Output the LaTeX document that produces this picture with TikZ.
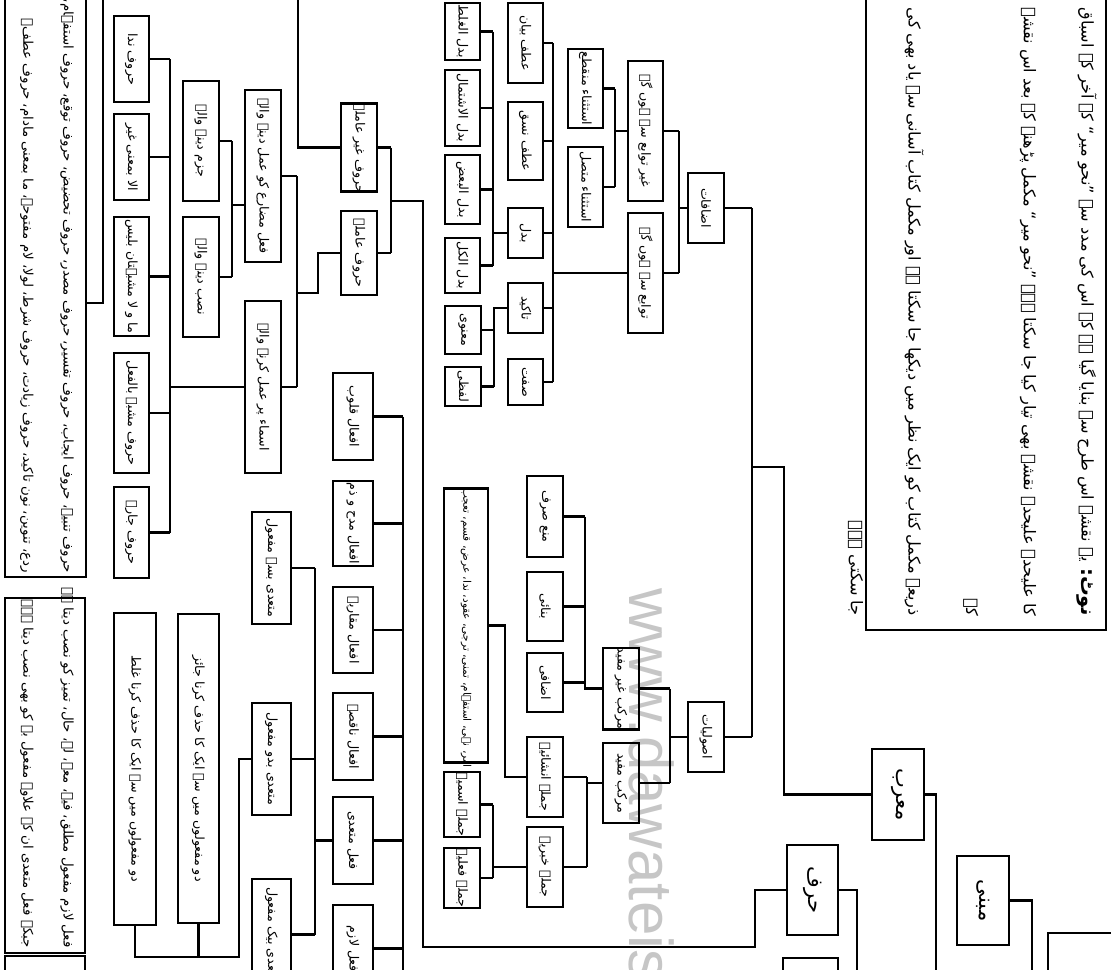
\documentclass[tikz,border=0pt]{standalone}
\usepackage{fontspec}
\usetikzlibrary{fit,positioning}
\setmainfont{DejaVu Sans}
\newfontfamily\urdu[Script=Arabic]{DejaVu Sans}
\newfontfamily\wmfont{Liberation Sans}
\TeXXeTstate=1
\newcommand{\lb}[1]{\rotatebox{-90}{\urdu\fontsize{9}{11}\selectfont\beginR #1\endR}}
\newcommand{\lbs}[1]{\rotatebox{-90}{\urdu\fontsize{7.5}{9}\selectfont\beginR #1\endR}}
\newcommand{\lbig}[1]{\rotatebox{-90}{\urdu\fontsize{15}{18}\selectfont\beginR #1\endR}}
\tikzset{
  box/.style={draw,line width=2pt,inner sep=0pt,fit={#1}},
  link/.style={line width=2pt},
  note/.style={inner sep=0pt,anchor=south east},
}

\begin{document}
\begin{tikzpicture}[x=0.025cm,y=-0.025cm]
  \useasboundingbox (0,0) rectangle (1111,969);
  \clip (0,0) rectangle (1111,969);
  \fill[white] (0,0) rectangle (1111,969);

  % watermark
  \node[anchor=north,inner sep=0pt,text=gray!45] (wm) at (652,588)
    {\rotatebox{-90}{\wmfont\fontsize{44}{44}\selectfont www.dawateislami.net}};

  % notes
  \node[box={(5,-40)(86,577)}] (notea) {};
  \node[note] (noteatext) at (74,573) {\rotatebox{-90}{\parbox{16cm}{\raggedleft\urdu\fontsize{9.5}{28.5}\selectfont
    \beginR حروف تنبیہ، حروف ایجاب، حروف تفسیر، حروف مصدر، حروف تحضیض، حروف توقع، حروف استفہام، حروف\endR\\
    \beginR ردع، تنوین، نون تاکید، حروف زیادت، حروف شرط، لولا، لام مفتوحہ، ما بمعنی مادام، حروف عطف۔\endR}}};
  \node[box={(5,598)(85,953)}] (noteb) {};
  \node[note] (notebtext) at (74,948) {\rotatebox{-90}{\parbox{9cm}{\raggedleft\urdu\fontsize{9.5}{28.5}\selectfont
    \beginR فعل لازم مفعول مطلق، فیہ، معہ، لہ، حال، تمیز کو نصب دیتا ہے\endR\\
    \beginR جبکہ فعل متعدی ان کے علاوہ مفعول بہ کو بھی نصب دیتا ہے۔\endR}}};
  \node[box={(5,956)(85,1010)}] (notec) {};
  \node[box={(866,-40)(1106,630)}] (notem) {};
  \node[note] (notemtext) at (1097,616) {\rotatebox{-90}{\parbox{15.2cm}{\raggedleft\urdu\fontsize{11.5}{41}\selectfont
    \beginR{\bfseries\fontsize{14}{41}\selectfont نوٹ:} یہ نقشہ اس طرح سے بنایا گیا ہے کہ اس کی مدد سے ”نحو میر“ کے آخر کے اسباق\endR\\
    \beginR کا علیحدہ علیحدہ نقشہ بھی تیار کیا جا سکتا ہے۔ ”نحو میر“ مکمل پڑھنے کے بعد اس نقشے کے\endR\\
    \beginR ذریعے مکمل کتاب کو ایک نظر میں دیکھا جا سکتا ہے اور مکمل کتاب آسانی سے یاد بھی کی\endR\\
    \beginR جا سکتی ہے۔\endR}}};

  % harf side
  \foreach \n/\xa/\ya/\xb/\yb/\t in {
      nida/114/16/149/102/{حروف ندا},
      illa/114/114/149/200/{الا بمعنی غیر},
      mawala/114/217/149/336/{ما و لا مشبہتان بلیس},
      mushabbaha/114/353/149/473/{حروف مشبہ بالفعل},
      jarra/114/487/149/578/{حروف جارہ},
      jazm/183/81/219/201/{جزم دینے والے},
      nasb/183/217/219/337/{نصب دینے والے},
      mudari/245/90/281/262/{فعل مضارع کو عمل دینے والے},
      asma/245/301/281/473/{اسماء پر عمل کرنے والے},
      ghaira/341/105/377/190/{حروف غیر عاملہ},
      amila/341/211/377/295/{حروف عاملہ}}
    \node[box={(\xa,\ya)(\xb,\yb)}] (\n) {\lb{\t}};

  % izafat side
  \foreach \n/\xa/\ya/\xb/\yb/\t in {
      izafat/688/173/724/243/{اضافات},
      ghtawabi/628/61/663/201/{غیر توابع سے ہوں گے},
      tawabi/628/213/663/333/{توابع سے ہوں گے},
      munqati/568/49/603/128/{استثناء منقطع},
      muttasil/568/147/603/227/{استثناء متصل},
      atfbayan/508/3/543/83/{عطف بیان},
      atfnasq/508/102/543/180/{عطف نسق},
      badal/508/208/543/258/{بدل},
      takid/508/283/543/333/{تاکید},
      sifat/508/359/543/405/{صفت},
      ghalat/445/3/480/60/{بدل الغلط},
      ishtimal/445/70/480/146/{بدل الاشتمال},
      baaz/445/155/480/224/{بدل البعض},
      kul/445/238/480/293/{بدل الکل},
      manawi/445/306/481/354/{معنوی},
      lafzi/445/367/481/406/{لفظی}}
    \node[box={(\xa,\ya)(\xb,\yb)}] (\n) {\lb{\t}};

  % usool side
  \foreach \n/\xa/\ya/\xb/\yb/\t in {
      usool/688/702/724/772/{اصولیات},
      ghmufid/603/648/639/729/{مرکب غیر مفید},
      mufid/603/743/639/823/{مرکب مفید},
      mana/527/476/563/557/{منع صرف},
      binai/527/572/563/641/{بنائی},
      izafi/527/653/563/712/{اضافی},
      inshaia/527/737/563/817/{جملہ انشائیہ},
      khabria/527/827/563/907/{جملہ خبریہ},
      ismia/444/772/480/837/{جملہ اسمیہ},
      filia/444/848/480/908/{جملہ فعلیہ}}
    \node[box={(\xa,\ya)(\xb,\yb)}] (\n) {\lb{\t}};
  \node[box={(444,491)(488,760)}] (insha)
    {\lbs{امر، نہی، استفہام، تمنی، ترجی، عقود، ندا، عرض، قسم، تعجب}};

  % fel side
  \foreach \n/\xa/\ya/\xb/\yb/\t in {
      qulub/333/373/373/460/{افعال قلوب},
      madh/333/481/373/566/{افعال مدح و ذم},
      muqaraba/333/587/373/673/{افعال مقاربہ},
      naqisa/333/693/373/780/{افعال ناقصہ},
      mutaddi/333/797/373/884/{فعل متعدی},
      lazim/333/905/373/992/{فعل لازم},
      bisa/252/512/291/624/{متعدی بسہ مفعول},
      bido/252/703/291/815/{متعدی بدو مفعول},
      bayak/252/879/291/990/{متعدی بیک مفعول},
      ghalatbox/114/613/156/925/{دو مفعولوں میں سے ایک کا حذف کرنا غلط},
      jaizbox/178/614/219/923/{دو مفعولوں میں سے ایک کا حذف کرنا جائز}}
    \node[box={(\xa,\ya)(\xb,\yb)}] (\n) {\lb{\t}};

  % top level
  \foreach \n/\xa/\ya/\xb/\yb/\t in {
      harf/787/845/838/935/{حرف},
      murab/872/749/924/840/{معرب},
      mabni/957/856/1009/945/{مبنی}}
    \node[box={(\xa,\ya)(\xb,\yb)}] (\n) {\lbig{\t}};
  \node[box={(783,958)(838,1010)}] (cutd) {};
  \node[box={(1048,933)(1125,1010)}] (cute) {};

  % buses
  \coordinate (b1) at (170,0);
  \coordinate (b2) at (232,0);
  \coordinate (b3) at (297,0);
  \coordinate (b4) at (391,0);
  \coordinate (b5) at (493,0);
  \coordinate (b6) at (494,0);
  \coordinate (b7) at (553,0);
  \coordinate (b8) at (615,0);
  \coordinate (b9) at (679,0);
  \coordinate (b10) at (752,0);
  \coordinate (b11) at (670,0);
  \coordinate (b12) at (585,0);
  \coordinate (b13) at (587,0);
  \coordinate (b14) at (505,0);
  \coordinate (b15) at (493,0);
  \coordinate (b16) at (403,0);
  \coordinate (b17) at (315,0);

  % harf links
  \foreach \c in {nida,illa,mawala,mushabbaha,jarra}
    \draw[link] (\c.east) -- (\c.east -| b1);
  \draw[link] (nida.east -| b1) -- (jarra.east -| b1);
  \draw[link] (asma.west) -- (asma.west -| b1);
  \foreach \c in {jazm,nasb}
    \draw[link] (\c.east) -- (\c.east -| b2);
  \draw[link] (jazm.east -| b2) -- (nasb.east -| b2);
  \coordinate (j2) at (232,205);
  \draw[link] (j2) -- (j2 -| mudari.west);
  \foreach \c in {mudari,asma}
    \draw[link] (\c.east) -- (\c.east -| b3);
  \draw[link] (mudari.east -| b3) -- (asma.east -| b3);
  \coordinate (j3) at (297,293);
  \coordinate (j3a) at (318,293);
  \draw[link] (j3) -- (j3a) |- (amila.west);
  \coordinate (topa) at (298,-5);
  \draw[link] (ghaira.west) -| (topa);
  \coordinate (na) at (86,303);
  \coordinate (topb) at (103,-5);
  \draw[link] (na) -| (topb);
  \foreach \c in {ghaira,amila}
    \draw[link] (\c.east) -- (\c.east -| b4);
  \draw[link] (ghaira.east -| b4) -- (amila.east -| b4);
  \coordinate (j4) at (391,201);
  \coordinate (k4) at (423,947);
  \coordinate (k5) at (755,947);
  \draw[link] (j4) -| (k4) -- (k5) |- (harf.west);

  % izafat links
  \foreach \c in {ghalat,ishtimal,baaz,kul}
    \draw[link] (\c.east) -- (\c.east -| b5);
  \draw[link] (ghalat.east -| b5) -- (kul.east -| b5);
  \draw[link] (badal.west) -- (badal.west -| b5);
  \foreach \c in {manawi,lafzi}
    \draw[link] (\c.east) -- (\c.east -| b6);
  \draw[link] (takid.west) -- (takid.west -| b6) -- (lafzi.east -| b6);
  \foreach \c in {atfbayan,atfnasq,badal,takid,sifat}
    \draw[link] (\c.east) -- (\c.east -| b7);
  \draw[link] (atfbayan.east -| b7) -- (sifat.east -| b7);
  \draw[link] (tawabi.west) -- (tawabi.west -| b7);
  \foreach \c in {munqati,muttasil}
    \draw[link] (\c.east) -- (\c.east -| b8);
  \draw[link] (munqati.east -| b8) -- (muttasil.east -| b8);
  \draw[link] (ghtawabi.west) -- (ghtawabi.west -| b8);
  \foreach \c in {ghtawabi,tawabi}
    \draw[link] (\c.east) -- (\c.east -| b9);
  \draw[link] (ghtawabi.east -| b9) -- (tawabi.east -| b9);
  \draw[link] (izafat.west) -- (izafat.west -| b9);
  \foreach \c in {izafat,usool}
    \draw[link] (\c.east) -- (\c.east -| b10);
  \draw[link] (izafat.east -| b10) -- (usool.east -| b10);
  \coordinate (j10) at (752,467);
  \coordinate (j10a) at (784,467);
  \draw[link] (j10) -- (j10a) |- (murab.west);

  % usool links
  \foreach \c in {ghmufid,mufid}
    \draw[link] (\c.east) -- (\c.east -| b11);
  \draw[link] (ghmufid.east -| b11) -- (mufid.east -| b11);
  \draw[link] (usool.west) -- (usool.west -| b11);
  \foreach \c in {mana,binai,izafi}
    \draw[link] (\c.east) -- (\c.east -| b12);
  \draw[link] (mana.east -| b12) -- (ghmufid.west -| b12) -- (ghmufid.west);
  \foreach \c in {inshaia,khabria}
    \draw[link] (\c.east) -- (\c.east -| b13);
  \draw[link] (inshaia.east -| b13) -- (khabria.east -| b13);
  \draw[link] (mufid.west) -- (mufid.west -| b13);
  \draw[link] (insha.east) -| (b14 |- inshaia.west) -- (inshaia.west);
  \foreach \c in {ismia,filia}
    \draw[link] (\c.east) -- (\c.east -| b15);
  \draw[link] (ismia.east -| b15) -- (filia.east -| b15);
  \draw[link] (khabria.west) -- (khabria.west -| b15);

  % fel links
  \foreach \c in {qulub,madh,muqaraba,naqisa,mutaddi,lazim}
    \draw[link] (\c.east) -- (\c.east -| b16);
  \coordinate (bot16) at (403,1000);
  \draw[link] (qulub.east -| b16) -- (bot16);
  \foreach \c in {bisa,bido,bayak}
    \draw[link] (\c.east) -- (\c.east -| b17);
  \draw[link] (bisa.east -| b17) -- (bayak.east -| b17);
  \draw[link] (mutaddi.west) -- (mutaddi.west -| b17);
  \coordinate (k18) at (239,957);
  \draw[link] (ghalatbox.south) |- (k18) |- (bido.west);
  \draw[link] (jaizbox.south) -- (jaizbox.south |- k18);

  % top links
  \coordinate (dm) at (936,1000);
  \coordinate (db) at (1032,1000);
  \coordinate (dh) at (857,1000);
  \draw[link] (murab.east) -| (dm);
  \draw[link] (mabni.east) -| (db);
  \draw[link] (harf.east) -| (dh);
\end{tikzpicture}
\end{document}
